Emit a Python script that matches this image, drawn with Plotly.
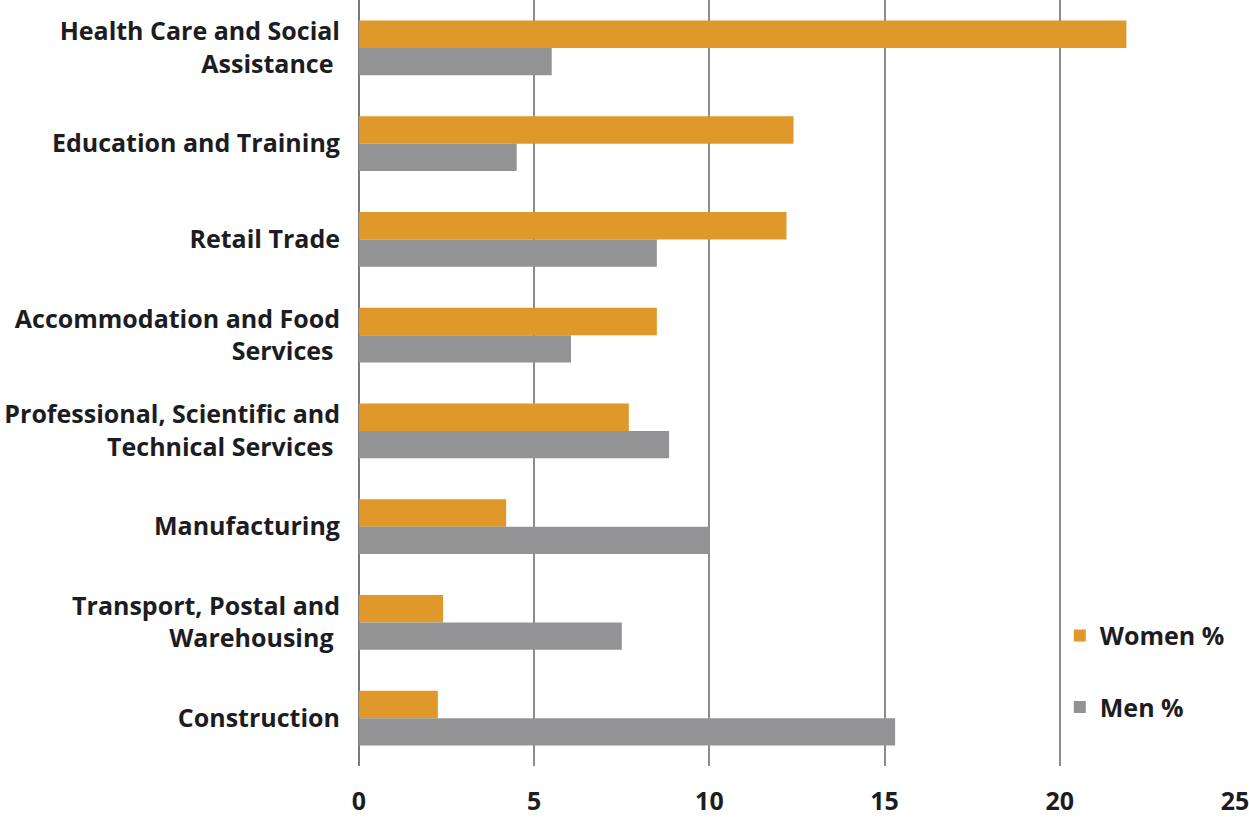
import plotly.graph_objects as go

industries = [
    "Health Care and Social<br>Assistance ",
    "Education and Training",
    "Retail Trade",
    "Accommodation and Food<br>Services ",
    "Professional, Scientific and<br>Technical Services ",
    "Manufacturing",
    "Transport, Postal and<br>Warehousing ",
    "Construction",
]
women_pct = [21.9, 12.4, 12.2, 8.5, 7.7, 4.2, 2.4, 2.25]
men_pct = [5.5, 4.5, 8.5, 6.05, 8.85, 10.0, 7.5, 15.3]

x_ticks = [0, 5, 10, 15, 20, 25]

ORANGE = "#E0982A"
GREY = "#939396"
TEXT = "#1c1c22"
FONT = "Open Sans"
SIZE = 25

fig = go.Figure()
fig.add_trace(go.Bar(
    y=industries, x=women_pct, orientation="h", name="Women %",
    marker=dict(color=ORANGE, line=dict(width=0)), legendgroup="w",
))
fig.add_trace(go.Bar(
    y=industries, x=men_pct, orientation="h", name="Men %",
    marker=dict(color=GREY, line=dict(width=0)), legendgroup="m",
))

fig.update_layout(
    width=1249, height=821,
    margin=dict(l=359, r=14, t=0, b=55),
    paper_bgcolor="white", plot_bgcolor="white",
    barmode="group", bargap=0.43, bargroupgap=0,
    font=dict(family=FONT, size=SIZE, color=TEXT, weight="bold"),
    legend=dict(
        x=0.80, y=0.20, xanchor="left", yanchor="top",
        tracegroupgap=36, itemwidth=30,
        font=dict(family=FONT, size=SIZE, color=TEXT, weight="bold"),
        bgcolor="rgba(0,0,0,0)",
    ),
    showlegend=True,
)
fig.update_xaxes(
    range=[0, 25], tickvals=x_ticks, ticktext=[str(v) for v in x_ticks],
    showgrid=True, gridcolor="#8c8c8c", gridwidth=1.5,
    zeroline=True, zerolinecolor="#7a7a7a", zerolinewidth=2,
    showline=False, ticks="", ticklabelstandoff=18,
    ticklabeloverflow="allow", automargin=False,
    tickfont=dict(family=FONT, size=SIZE, color=TEXT, weight="bold"),
)
fig.update_yaxes(
    autorange="reversed", showgrid=False, showline=False, ticks="",
    ticklabelstandoff=18, ticklabeloverflow="allow", automargin=False,
    tickfont=dict(family=FONT, size=SIZE, color=TEXT, weight="bold"),
)

fig.write_html("out.html")
